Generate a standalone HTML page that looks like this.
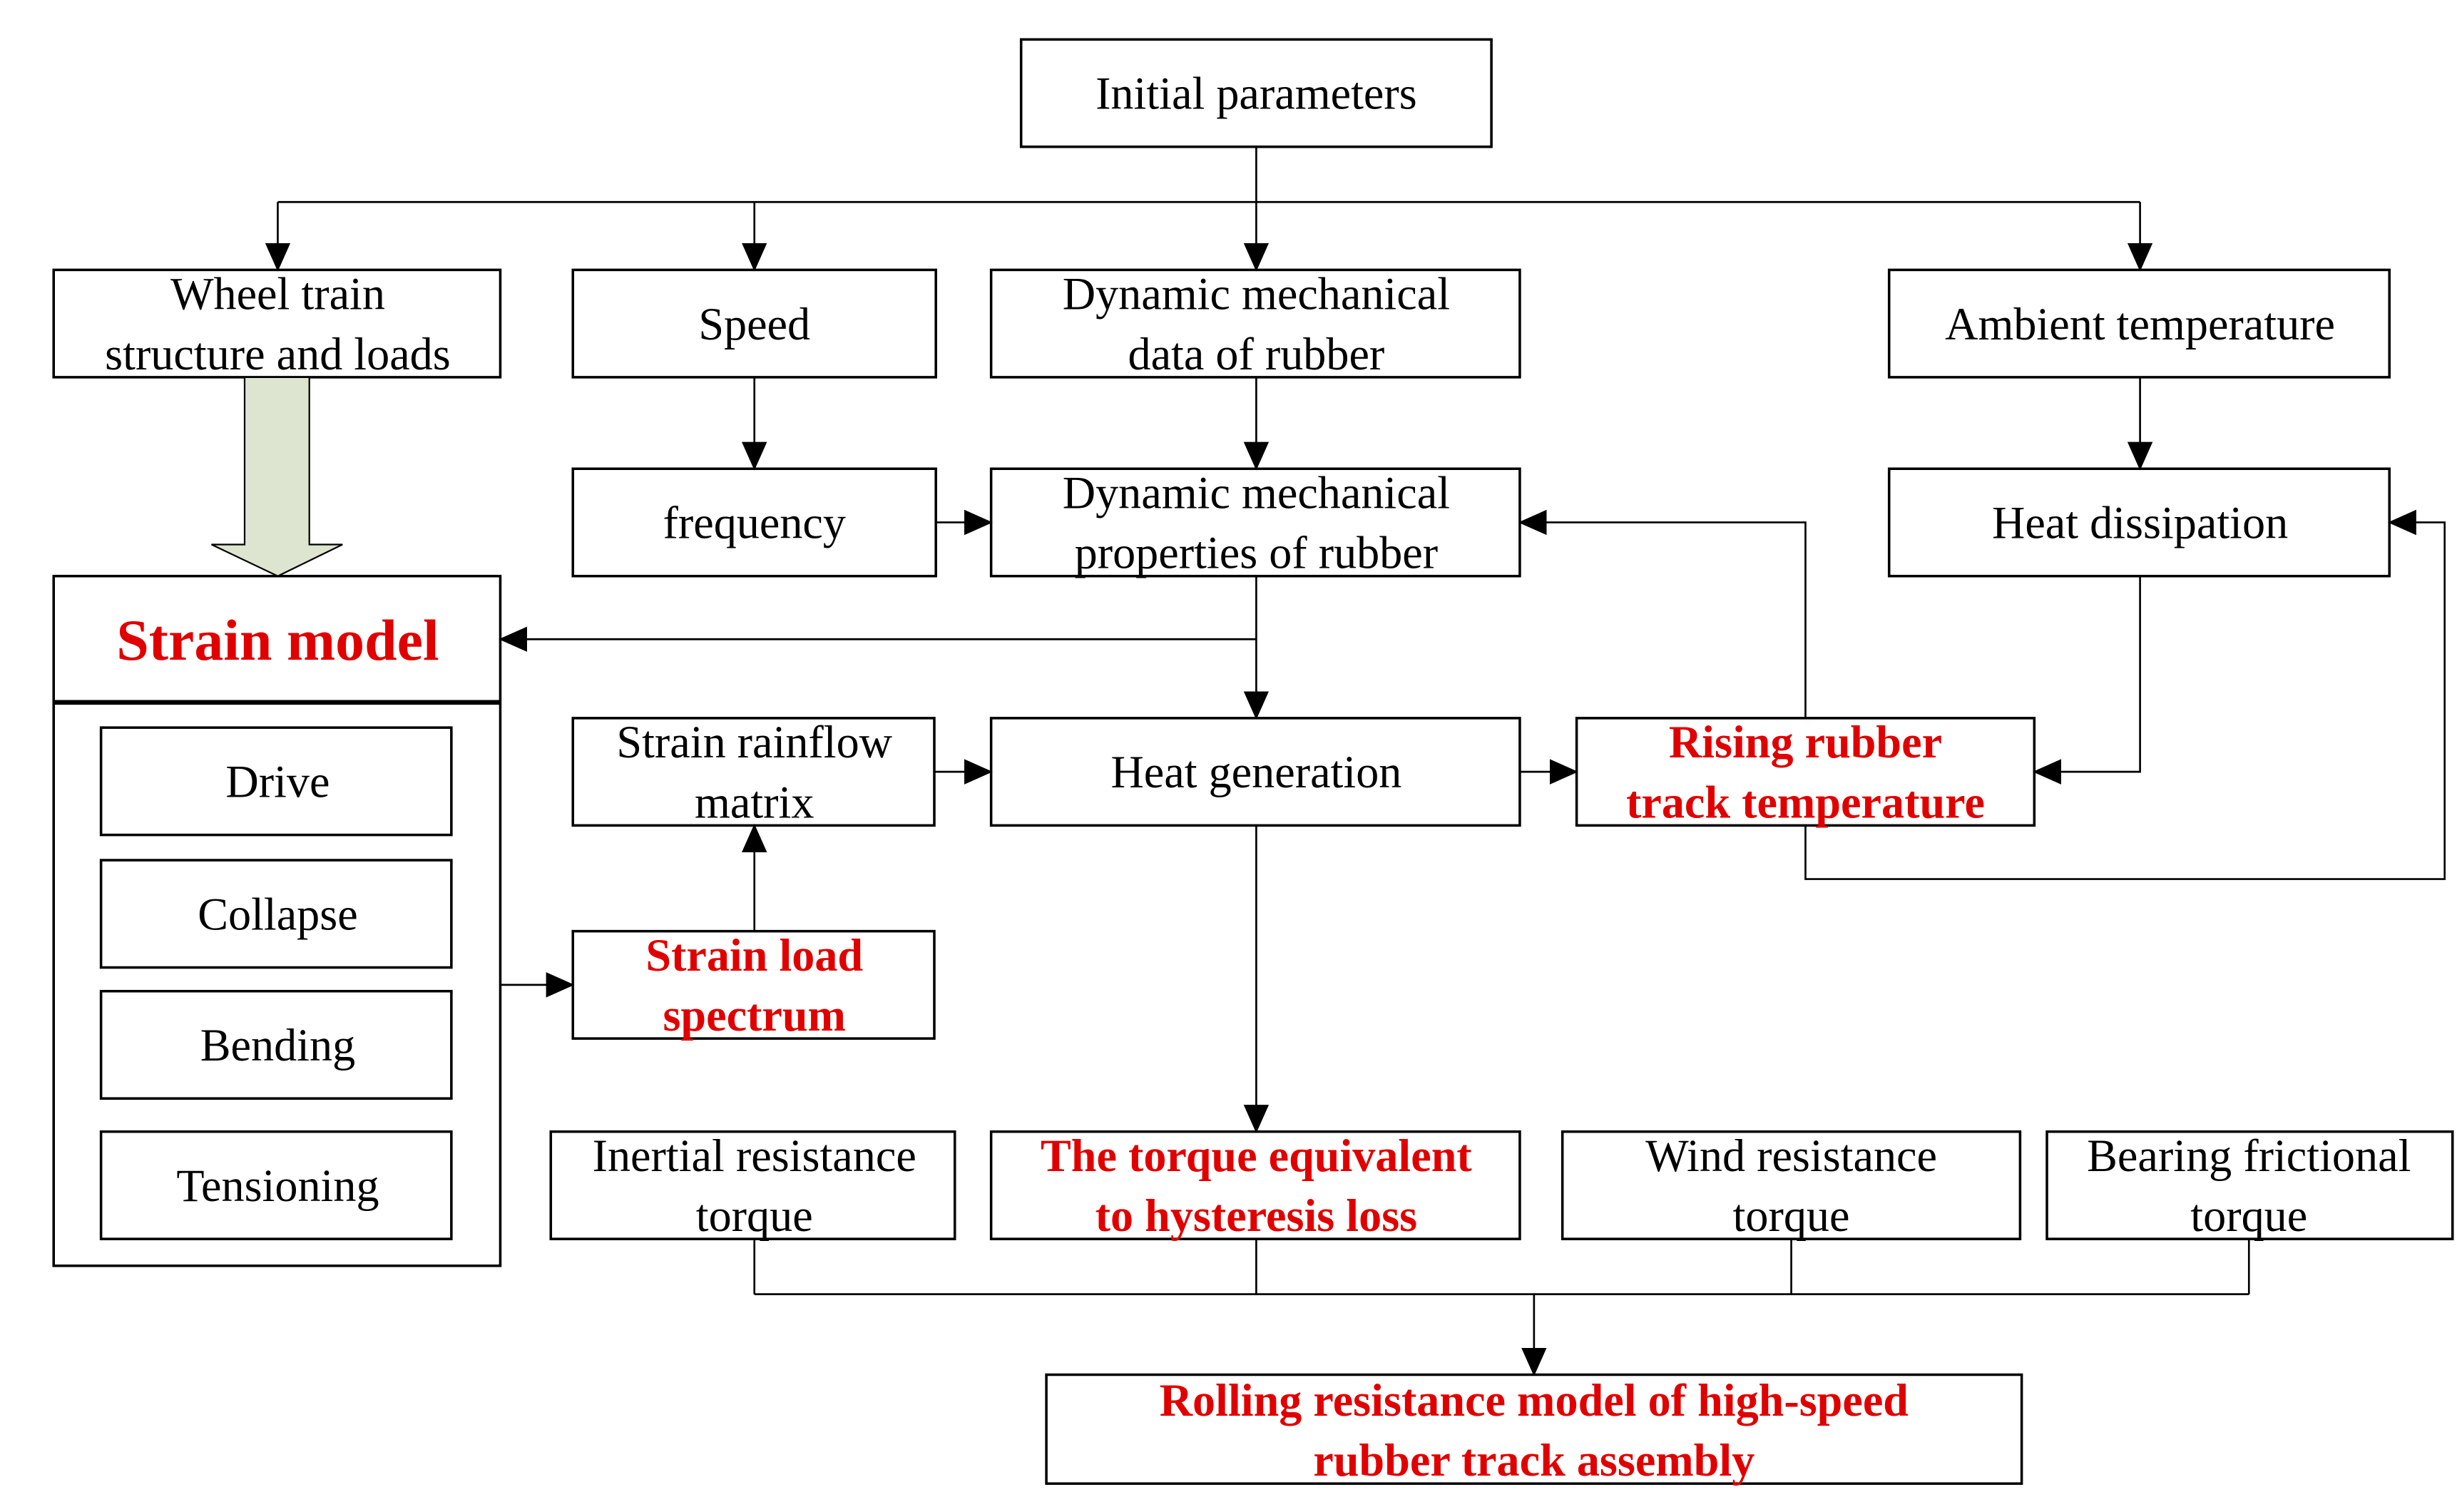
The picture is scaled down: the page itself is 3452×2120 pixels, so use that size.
<!DOCTYPE html>
<html><head><meta charset="utf-8"><style>
html,body{margin:0;padding:0;background:#fff;}
svg{display:block;}
text{font-family:"Liberation Serif",serif;font-size:29px;text-anchor:middle;fill:#000;}
.r{fill:#e00000;font-weight:bold;}
</style></head><body>
<svg width="3452" height="2120" viewBox="0 0 1560 958" preserveAspectRatio="none" xmlns="http://www.w3.org/2000/svg">
<defs><marker id="a" markerWidth="10" markerHeight="10" refX="9" refY="5" orient="auto" markerUnits="userSpaceOnUse" viewBox="0 0 10 10"><path d="M0,0 L10,5 L0,10z" fill="#000"/></marker>
<marker id="b" markerWidth="18" markerHeight="18" refX="17" refY="9" orient="auto" markerUnits="userSpaceOnUse" viewBox="0 0 18 18"><path d="M0,1 L18,9 L0,17z" fill="#000"/></marker></defs>
<g fill="none" stroke="#000" stroke-width="1.6">
<rect x="647" y="25" width="298" height="68"/>
<rect x="34" y="171" width="283" height="68"/>
<rect x="363" y="171" width="230" height="68"/>
<rect x="628" y="171" width="335" height="68"/>
<rect x="1197" y="171" width="317" height="68"/>
<rect x="363" y="297" width="230" height="68"/>
<rect x="628" y="297" width="335" height="68"/>
<rect x="1197" y="297" width="317" height="68"/>
<rect x="34" y="365" width="283" height="437"/>
<rect x="64" y="461" width="222" height="68"/>
<rect x="64" y="545" width="222" height="68"/>
<rect x="64" y="628" width="222" height="68"/>
<rect x="64" y="717" width="222" height="68"/>
<rect x="363" y="455" width="229" height="68"/>
<rect x="628" y="455" width="335" height="68"/>
<rect x="999" y="455" width="290" height="68"/>
<rect x="363" y="590" width="229" height="68"/>
<rect x="349" y="717" width="256" height="68"/>
<rect x="628" y="717" width="335" height="68"/>
<rect x="990" y="717" width="290" height="68"/>
<rect x="1297" y="717" width="257" height="68"/>
<rect x="663" y="871" width="618" height="69"/>
</g>
<line x1="34" y1="445" x2="317" y2="445" stroke="#000" stroke-width="3"/>
<path d="M155,239 L196,239 L196,345 L217,345 L176,365 L134,345 L155,345z" fill="#dde5d0" stroke="#000" stroke-width="1"/>
<g fill="none" stroke="#000" stroke-width="1.2">
<line x1="796" y1="93" x2="796" y2="128"/>
<line x1="176" y1="128" x2="1356" y2="128"/>
<line x1="176" y1="128" x2="176" y2="171" marker-end="url(#b)"/>
<line x1="478" y1="128" x2="478" y2="171" marker-end="url(#b)"/>
<line x1="796" y1="128" x2="796" y2="171" marker-end="url(#b)"/>
<line x1="1356" y1="128" x2="1356" y2="171" marker-end="url(#b)"/>
<line x1="478" y1="239" x2="478" y2="297" marker-end="url(#b)"/>
<line x1="796" y1="239" x2="796" y2="297" marker-end="url(#b)"/>
<line x1="1356" y1="239" x2="1356" y2="297" marker-end="url(#b)"/>
<line x1="593" y1="331" x2="628" y2="331" marker-end="url(#b)"/>
<line x1="796" y1="365" x2="796" y2="455" marker-end="url(#b)"/>
<line x1="796" y1="405" x2="317" y2="405" marker-end="url(#b)"/>
<line x1="592" y1="489" x2="628" y2="489" marker-end="url(#b)"/>
<line x1="963" y1="489" x2="999" y2="489" marker-end="url(#b)"/>
<polyline points="1356,365 1356,489 1289,489" marker-end="url(#b)"/>
<polyline points="1144,455 1144,331 963,331" marker-end="url(#b)"/>
<polyline points="1144,523 1144,557 1549,557 1549,331 1514,331" marker-end="url(#b)"/>
<line x1="478" y1="590" x2="478" y2="523" marker-end="url(#b)"/>
<line x1="317" y1="624" x2="363" y2="624" marker-end="url(#b)"/>
<line x1="796" y1="523" x2="796" y2="717" marker-end="url(#b)"/>
<line x1="478" y1="785" x2="478" y2="820"/>
<line x1="796" y1="785" x2="796" y2="820"/>
<line x1="1135" y1="785" x2="1135" y2="820"/>
<line x1="1425" y1="785" x2="1425" y2="820"/>
<line x1="478" y1="820" x2="1425" y2="820"/>
<line x1="972" y1="820" x2="972" y2="871" marker-end="url(#b)"/>
</g>
<text x="796" y="69">Initial parameters</text>
<text x="176" y="196">Wheel train</text><text x="176" y="234">structure and loads</text>
<text x="478" y="215">Speed</text>
<text x="796" y="196">Dynamic mechanical</text><text x="796" y="234">data of rubber</text>
<text x="1356" y="215">Ambient temperature</text>
<text x="478" y="341">frequency</text>
<text x="796" y="322">Dynamic mechanical</text><text x="796" y="360">properties of rubber</text>
<text x="1356" y="341">Heat dissipation</text>
<text x="176" y="418" class="r" style="font-size:37px">Strain model</text>
<text x="176" y="505">Drive</text>
<text x="176" y="589">Collapse</text>
<text x="176" y="672">Bending</text>
<text x="176" y="761">Tensioning</text>
<text x="478" y="480">Strain rainflow</text><text x="478" y="518">matrix</text>
<text x="796" y="499">Heat generation</text>
<text x="1144" y="480" class="r">Rising rubber</text><text x="1144" y="518" class="r">track temperature</text>
<text x="478" y="615" class="r">Strain load</text><text x="478" y="653" class="r">spectrum</text>
<text x="478" y="742">Inertial resistance</text><text x="478" y="780">torque</text>
<text x="796" y="742" class="r">The torque equivalent</text><text x="796" y="780" class="r">to hysteresis loss</text>
<text x="1135" y="742">Wind resistance</text><text x="1135" y="780">torque</text>
<text x="1425" y="742">Bearing frictional</text><text x="1425" y="780">torque</text>
<text x="972" y="897" class="r">Rolling resistance model of high-speed</text><text x="972" y="935" class="r">rubber track assembly</text>
</svg>
</body></html>
